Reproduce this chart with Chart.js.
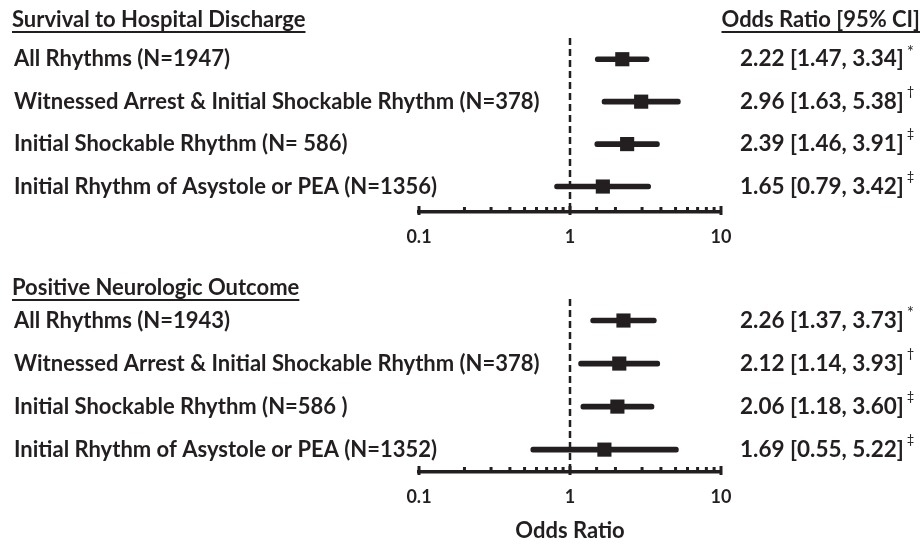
<!DOCTYPE html>
<html>
<head>
<meta charset="utf-8">
<script src="https://cdn.jsdelivr.net/npm/chart.js@4.4.1/dist/chart.umd.min.js"></script>
<style>
  body { margin: 0; background: #fff; }
  .panel { position: relative; width: 923px; }
</style>
</head>
<body>
<div class="panel" style="height:265px"><canvas id="survival"></canvas></div>
<div class="panel" style="height:280px"><canvas id="neuro"></canvas></div>
<script>
const survivalLabels = ['All Rhythms (N=1947)', 'Witnessed Arrest & Initial Shockable Rhythm (N=378)',
    'Initial Shockable Rhythm (N= 586)', 'Initial Rhythm of Asystole or PEA (N=1356)']
const survivalOR = [2.22, 2.96, 2.39, 1.65]
const survivalLow = [1.47, 1.63, 1.46, 0.79]
const survivalHigh = [3.34, 5.38, 3.91, 3.42]

const neuroLabels = ['All Rhythms (N=1943)', 'Witnessed Arrest & Initial Shockable Rhythm (N=378)',
    'Initial Shockable Rhythm (N=586 )', 'Initial Rhythm of Asystole or PEA (N=1352)']
const neuroOR = [2.26, 2.12, 2.06, 1.69]
const neuroLow = [1.37, 1.14, 1.18, 0.55]
const neuroHigh = [3.73, 3.93, 3.60, 5.22]

const footMarks = ['*', '\u2020', '\u2021', '\u2021']
const xTickLabels = [0.1, 1, 10]

const ink = '#231f20'
const fam = 'Lato, "Open Sans", sans-serif'

const fmt = (v) => v.toFixed(2)

// everything around the marks: row labels, headings, OR [CI] column, tick marks, dashed line at 1
const forestDecor = {
    id: 'forestDecor',
    afterDraw(chart, args, opts) {
        const ctx = chart.ctx
        const x = chart.scales.x
        const y = chart.scales.y
        const area = chart.chartArea
        ctx.save()
        ctx.fillStyle = ink
        ctx.strokeStyle = ink

        // small ticks pointing up from the axis line
        ctx.lineWidth = 3
        for (let t of x.ticks) {
            const px = x.getPixelForValue(t.value)
            const big = xTickLabels.some(v => Math.abs(v - t.value) < 1e-9)
            ctx.beginPath()
            ctx.moveTo(px, x.top + (big ? 3 : 1))
            ctx.lineTo(px, x.top - (big ? 6 : 5))
            ctx.stroke()
        }

        // reference line at OR = 1
        const x1 = x.getPixelForValue(1)
        ctx.lineWidth = 2.5
        ctx.setLineDash([7, 4])
        ctx.beginPath()
        ctx.moveTo(x1, area.top)
        ctx.lineTo(x1, x.top)
        ctx.stroke()
        ctx.setLineDash([])

        // underlined headings
        ctx.font = `bold 22px ${fam}`
        ctx.textBaseline = 'alphabetic'
        ctx.textAlign = 'left'
        const underline = (txt, tx, ty) => {
            ctx.fillText(txt, tx, ty)
            const w = ctx.measureText(txt).width
            ctx.lineWidth = 2
            ctx.beginPath()
            ctx.moveTo(tx, ty + 5)
            ctx.lineTo(tx + w, ty + 5)
            ctx.stroke()
        }
        underline(opts.title, 12, opts.titleY)
        if (opts.header) {
            const w = ctx.measureText(opts.header).width
            underline(opts.header, 920 - w, opts.titleY)
        }

        ctx.textBaseline = 'middle'
        for (let i = 0; i < opts.or.length; i++) {
            const py = y.getPixelForValue(i)
            // row label on the left
            ctx.font = `bold 22px ${fam}`
            ctx.fillText(opts.labels[i], 14, py)
            // OR [95% CI] column
            const txt = `${fmt(opts.or[i])} [${fmt(opts.low[i])}, ${fmt(opts.high[i])}]`
            ctx.font = `bold 22.5px ${fam}`
            ctx.fillText(txt, 740, py)
            const w = ctx.measureText(txt).width
            const star = footMarks[i] === '*'
            ctx.font = `${star ? 17 : 13}px ${fam}`
            ctx.fillText(footMarks[i], 740 + w + 3, py - (star ? 7 : 10))
        }
        ctx.restore()
    }
}

const makeForest = (id, labels, or, low, high, cfg) => {
    const ctx = document.getElementById(id).getContext('2d')
    return new Chart(ctx, {
        type: 'bar',
        data: {
            datasets: [{
                type: 'bar',
                data: low.map((l, i) => ({x: [l, high[i]], y: i})),
                backgroundColor: ink,
                barThickness: 5,
                borderRadius: 3,
                borderSkipped: false
            }, {
                type: 'line',
                data: or.map((v, i) => ({x: v, y: i})),
                showLine: false,
                pointStyle: 'rect',
                pointRadius: 10,
                pointHoverRadius: 10,
                pointBackgroundColor: ink,
                pointBorderWidth: 0
            }]
        },
        options: {
            indexAxis: 'y',
            responsive: true,
            maintainAspectRatio: false,
            animation: false,
            events: [],
            layout: {autoPadding: false, padding: {left: 14, right: 202, top: cfg.top, bottom: 0}},
            plugins: {
                legend: {display: false},
                tooltip: {enabled: false},
                forestDecor: {title: cfg.title, titleY: cfg.titleY, header: cfg.header,
                    labels: labels, or: or, low: low, high: high}
            },
            scales: {
                x: {
                    type: 'logarithmic',
                    min: 0.1,
                    max: 10,
                    grid: {display: false, drawTicks: false},
                    border: {color: ink, width: 3.5},
                    afterFit: (s) => { s.height = cfg.axisH },
                    ticks: {
                        autoSkip: false,
                        maxRotation: 0,
                        padding: 14,
                        color: ink,
                        font: {family: fam, size: 18, weight: 'bold'},
                        callback: (v) => {
                            const hit = xTickLabels.find(t => Math.abs(t - v) < 1e-9)
                            return hit === undefined ? '' : String(hit)
                        }
                    },
                    title: {
                        display: cfg.xTitle,
                        text: 'Odds Ratio',
                        color: ink,
                        font: {family: fam, size: 22, weight: 'bold'},
                        padding: {top: 10, bottom: 1}
                    }
                },
                y: {
                    type: 'linear',
                    reverse: true,
                    offset: false,
                    min: -0.5,
                    max: cfg.yMax,
                    grid: {display: false},
                    border: {display: false},
                    afterBuildTicks: (s) => { s.ticks = labels.map((_, i) => ({value: i})) },
                    afterFit: (s) => { s.width = 405 },
                    ticks: {display: false}
                }
            }
        },
        plugins: [forestDecor]
    })
}

makeForest('survival', survivalLabels, survivalOR, survivalLow, survivalHigh,
    {title: 'Survival to Hospital Discharge', titleY: 27, header: 'Odds Ratio [95% CI]',
        top: 38, axisH: 53, yMax: 3.6, xTitle: false})
makeForest('neuro', neuroLabels, neuroOR, neuroLow, neuroHigh,
    {title: 'Positive Neurologic Outcome', titleY: 30, header: null,
        top: 34, axisH: 73, yMax: 3.52, xTitle: true})
</script>
</body>
</html>
